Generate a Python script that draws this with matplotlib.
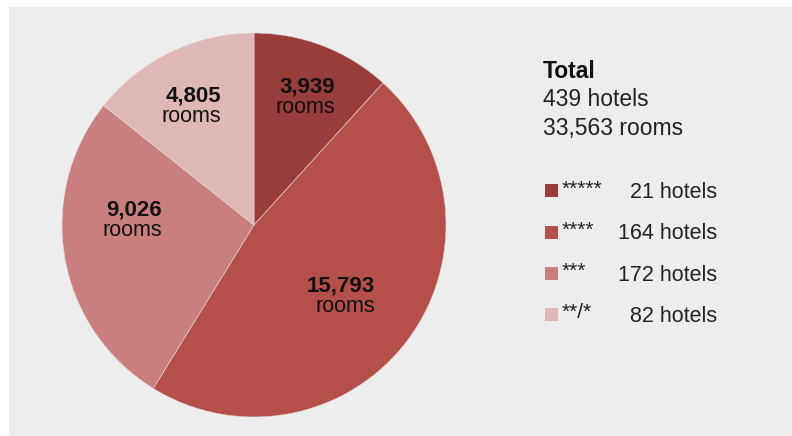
import matplotlib.pyplot as plt
from matplotlib.patches import Rectangle

plt.rcParams['font.family'] = ['Liberation Sans', 'DejaVu Sans']

categories = ['*****', '****', '***', '**/*']
rooms = [3939, 15793, 9026, 4805]
hotels = [21, 164, 172, 82]
colors = ['#983c3c', '#b54f4a', '#c97f7e', '#deb7b6']
total_hotels = 439
total_rooms = 33563

# label anchor (right edge, centre of number line) for each wedge, in pie units
label_pos = [(0.42, 0.72), (0.63, -0.32), (-0.48, 0.08), (-0.17, 0.67)]

W, H = 792, 436
fig = plt.figure(figsize=(W / 100, H / 100), dpi=100)
fig.patch.set_facecolor('white')
fig.patches.append(Rectangle((9 / W, 0), 1, (H - 7) / H, transform=fig.transFigure,
                             facecolor='#ededed', edgecolor='none', zorder=-5))

# pie: centre (254, 225) px, radius 192 px
ax = fig.add_axes([62 / W, (H - 417) / H, 384 / W, 384 / H])
ax.pie(rooms, colors=colors, startangle=90, counterclock=False,
       wedgeprops=dict(linewidth=0.4, edgecolor='#e8dada'))
ax.set_xlim(-1, 1)
ax.set_ylim(-1, 1)
ax.axis('off')

for (x, y), r in zip(label_pos, rooms):
    ax.text(x, y, f'{r:,}', ha='right', va='center', fontsize=16,
            fontweight='bold', color='#111111')
    ax.text(x, y - 0.107, 'rooms', ha='right', va='center', fontsize=15.5,
            color='#111111')

# totals block
fig.text(543 / W, 1 - 71 / H, 'Total', fontsize=16.5, fontweight='bold',
         color='#111111', va='center')
fig.text(543 / W, 1 - 100 / H, f'{total_hotels} hotels', fontsize=16.5,
         color='#222222', va='center')
fig.text(543 / W, 1 - 129 / H, f'{total_rooms:,} rooms', fontsize=16.5,
         color='#222222', va='center')

# legend
for i, (cat, n, c) in enumerate(zip(categories, hotels, colors)):
    yc = 191 + i * 41.3
    fig.patches.append(Rectangle((545 / W, 1 - (yc + 6.5) / H), 13 / W, 13 / H,
                                 transform=fig.transFigure, facecolor=c,
                                 edgecolor='none'))
    fig.text(562 / W, 1 - (yc - 2) / H, cat, fontsize=15, color='#222222',
             va='center')
    fig.text(717 / W, 1 - (yc + 1.5) / H, f'{n} hotels', fontsize=15.5,
             color='#222222', va='center', ha='right')

fig.savefig('out.png', dpi=100)
